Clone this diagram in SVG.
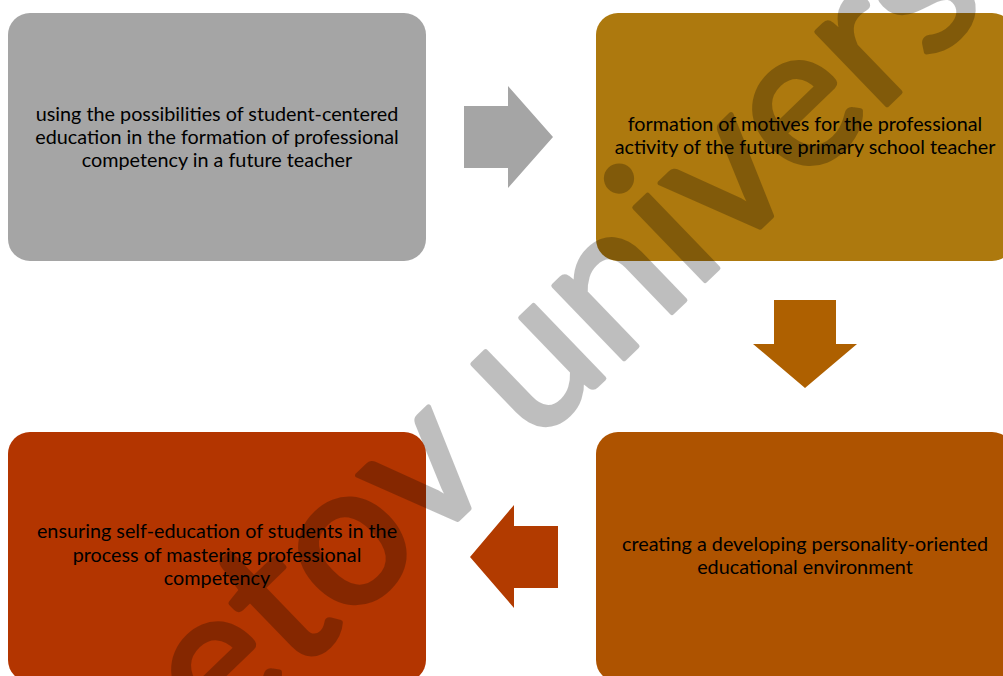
<svg xmlns="http://www.w3.org/2000/svg" width="1003" height="676" viewBox="0 0 1003 676">
<style>
.box{stroke:none}
.lbl{font-family:Lato,"Liberation Sans",sans-serif;font-size:19.8px;fill:#000;text-anchor:middle}
.wm{font-family:Lato,"Liberation Sans",sans-serif;font-size:200px;fill:#000;stroke:#000;stroke-width:5;stroke-linejoin:round}
</style>
<rect width="1003" height="676" fill="#fff"/>
<g id="node1">
<rect class="box" x="8" y="13" width="418" height="248" rx="22" fill="#A5A5A5"/>
<text class="lbl"><tspan x="217" y="121">using the possibilities of student-centered</tspan><tspan x="217" y="144">education in the formation of professional</tspan><tspan x="217" y="167">competency in a future teacher</tspan></text>
</g>
<g id="node2">
<rect class="box" x="596" y="13" width="418" height="248" rx="22" fill="#AD790E"/>
<text class="lbl"><tspan x="805" y="131">formation of motives for the professional</tspan><tspan x="805" y="154">activity of the future primary school teacher</tspan></text>
</g>
<g id="node3">
<rect class="box" x="596" y="432" width="418" height="250" rx="22" fill="#AE5300"/>
<text class="lbl"><tspan x="805" y="551">creating a developing personality-oriented</tspan><tspan x="805" y="574">educational environment</tspan></text>
</g>
<g id="node4">
<rect class="box" x="8" y="432" width="418" height="250" rx="22" fill="#B33500"/>
<text class="lbl"><tspan x="217" y="538">ensuring self-education of students in the</tspan><tspan x="217" y="561.5">process of mastering professional</tspan><tspan x="217" y="585">competency</tspan></text>
</g>
<g id="connectors">
<polygon points="464,106 508,106 508,86 553,137 508,188 508,168 464,168" fill="#A5A5A5"/>
<polygon points="774,300 836,300 836,344 857,344 805,388 753,344 774,344" fill="#AE6000"/>
<polygon points="558,526 514,526 514,505 470,557 514,608 514,588 558,588" fill="#B23B00"/>
</g>
<g opacity="0.25">
<text class="wm" transform="translate(220,749) rotate(-44)">etov univers</text>
</g>
</svg>
